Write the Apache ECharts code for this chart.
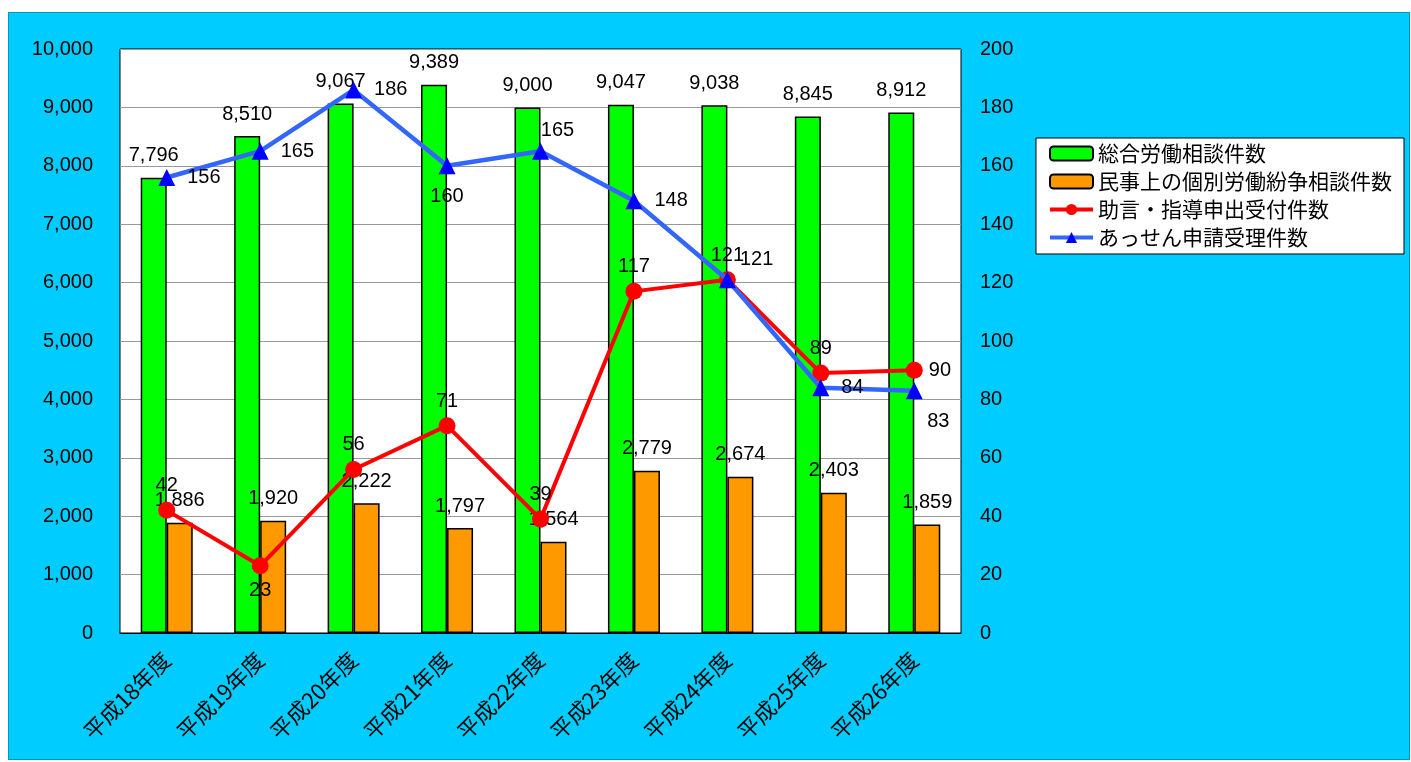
<!DOCTYPE html>
<html><head><meta charset="utf-8">
<script src="https://cdn.jsdelivr.net/npm/echarts@6/dist/echarts.min.js"></script>
<style>
html,body{margin:0;padding:0;background:#fff;width:1411px;height:762px;overflow:hidden;}
#bg{position:absolute;left:8px;top:12px;width:1402px;height:748px;background:#00CCFF;border:1px solid #0099bb;box-sizing:border-box;}
#c{position:absolute;left:0;top:0;width:1411px;height:762px;}
</style></head>
<body><div id="bg"></div><div id="c"></div>
<script>
var categories = ['平成18年度','平成19年度','平成20年度','平成21年度','平成22年度','平成23年度','平成24年度','平成25年度','平成26年度'];
var totalConsult = [7796, 8510, 9067, 9389, 9000, 9047, 9038, 8845, 8912];
var civilDisputes = [1886, 1920, 2222, 1797, 1564, 2779, 2674, 2403, 1859];
var adviceRequests = [42, 23, 56, 71, 39, 117, 121, 89, 90];
var mediationRequests = [156, 165, 186, 160, 165, 148, 121, 84, 83];
var leftTicks = {min: 0, max: 10000, interval: 1000};
var rightTicks = {min: 0, max: 200, interval: 20};
// label placements (style only)
var redLabelPos = ['top','bottom','top','top','top','top','top','top','right'];
var blueLabelPos = ['right','right','right','bottom','tt','right','tr','right','br'];

function fmt(v){return v.toString().replace(/\B(?=(\d{3})+(?!\d))/g, ',');}
var numFont = 'Liberation Sans, Arial, Noto Sans CJK JP, sans-serif';
var cjkFont = 'Noto Sans CJK JP, sans-serif';

function posCfg(p){
  if (p==='tr') return {position:'right', distance:4, offset:[0,-20]};
  if (p==='tt') return {position:'top', distance:2, offset:[17,0]};
  if (p==='br') return {position:'bottom', offset:[24,0]};
  return {position:p};
}
var redData = adviceRequests.map(function(v,i){ return {value:v, label:posCfg(redLabelPos[i])}; });
var blueData = mediationRequests.map(function(v,i){ return {value:v, label:posCfg(blueLabelPos[i])}; });

var chart = echarts.init(document.getElementById('c'));
chart.setOption({
  backgroundColor: 'transparent',
  animation: false,
  grid: {left:120, right:450, top:49, bottom:129, show:true, backgroundColor:'#fff', borderColor:'#000', borderWidth:1},
  legend: {
    orient:'vertical', left:1036, top:138,
    backgroundColor:'#fff', borderColor:'#000', borderWidth:1,
    padding:[5,12,6,12], itemGap:7, itemWidth:43, itemHeight:14,
    textStyle:{fontSize:21, fontFamily:cjkFont, color:'#000'},
    data:[
      {name:'総合労働相談件数'},
      {name:'民事上の個別労働紛争相談件数'},
      {name:'助言・指導申出受付件数', lineStyle:{width:4}},
      {name:'あっせん申請受理件数', lineStyle:{width:4}}
    ]
  },
  xAxis: {
    type:'category', data:categories,
    axisLine:{lineStyle:{color:'#000'}}, axisTick:{show:false},
    axisLabel:{rotate:45, fontSize:22, fontFamily:cjkFont, color:'#000', margin:23}
  },
  yAxis: [
    {type:'value', min:leftTicks.min, max:leftTicks.max, interval:leftTicks.interval,
     axisLine:{show:false}, axisTick:{show:false},
     splitLine:{lineStyle:{color:'#999'}},
     axisLabel:{fontSize:20, fontFamily:numFont, color:'#000', margin:27, formatter:function(v){return fmt(v);}}},
    {type:'value', min:rightTicks.min, max:rightTicks.max, interval:rightTicks.interval,
     axisLine:{show:false}, axisTick:{show:false}, splitLine:{show:false},
     axisLabel:{fontSize:20, fontFamily:numFont, color:'#000', margin:19}}
  ],
  series: [
    {name:'総合労働相談件数', type:'bar', data:totalConsult, barWidth:26, barGap:'0%',
     itemStyle:{color:'#00FF00', borderColor:'#000', borderWidth:1.5},
     label:{show:true, position:'top', distance:12, fontSize:20, fontFamily:numFont, color:'#000', formatter:function(p){return fmt(p.value);}}},
    {name:'民事上の個別労働紛争相談件数', type:'bar', data:civilDisputes, barWidth:26, barGap:'0%',
     itemStyle:{color:'#FF9900', borderColor:'#000', borderWidth:1.5},
     label:{show:true, position:'top', distance:12, fontSize:20, fontFamily:numFont, color:'#000', formatter:function(p){return fmt(p.value);}}},
    {name:'助言・指導申出受付件数', type:'line', yAxisIndex:1, data:redData,
     symbol:'circle', symbolSize:17, lineStyle:{color:'#FF0000', width:4}, itemStyle:{color:'#FF0000'},
     label:{show:true, distance:6, fontSize:20, fontFamily:numFont, color:'#000'}, z:3},
    {name:'あっせん申請受理件数', type:'line', yAxisIndex:1, data:blueData,
     symbol:'triangle', symbolSize:17, lineStyle:{color:'#3366FF', width:4.5}, itemStyle:{color:'#0000FF'},
     label:{show:true, distance:12, fontSize:20, fontFamily:numFont, color:'#000'}, z:4}
  ]
});
</script></body></html>
